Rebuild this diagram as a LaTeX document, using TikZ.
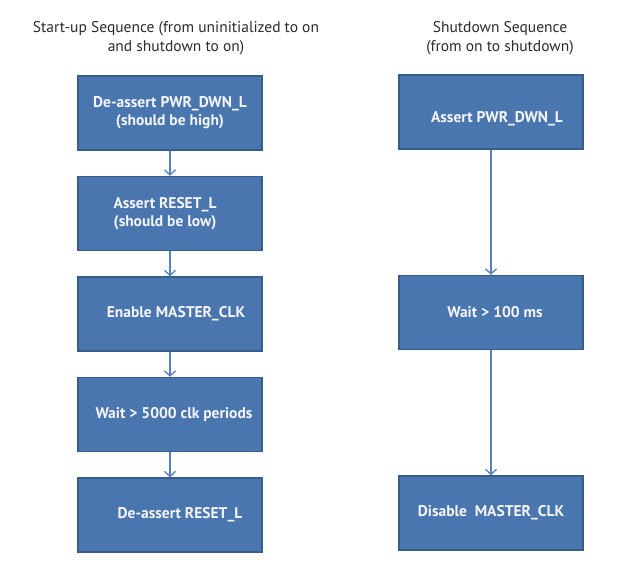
\documentclass[tikz,border=0pt]{standalone}
\usepackage{fontspec}
\setmainfont{PT Sans}
\usetikzlibrary{positioning, arrows.meta}
\definecolor{boxfill}{HTML}{4A76B0}
\definecolor{boxline}{HTML}{385D8A}
\definecolor{arrowblue}{HTML}{5582BE}
\definecolor{titlegray}{HTML}{2B2B2B}
\tikzset{
    stepbox/.style={
        draw=boxline, fill=boxfill, line width=1.5pt,
        minimum width=184pt, minimum height=74pt,
        text=white!92!gray, align=center,
        font=\fontsize{15.5}{18}\selectfont\bfseries
    },
    seqtitle/.style={
        align=center, text=titlegray,
        font=\fontsize{15.5}{19}\selectfont
    },
    flowarrow/.style={
        draw=arrowblue, line width=1.3pt,
        -{Straight Barb[length=5pt, width=11pt, line width=1.3pt]}
    },
    node distance=25pt
}
\begin{document}
\begin{tikzpicture}
    \useasboundingbox (0,0) rectangle (640pt,-574pt);
    % titles
    \node[seqtitle] (starttitle) at (176pt,-38pt) {Start-up Sequence (from uninitialized to on\\and shutdown to on)};
    \node[seqtitle] (shuttitle) at (500pt,-38pt) {Shutdown Sequence\\(from on to shutdown)};
    % start-up column
    \node[stepbox] (deassertpwr) at (170pt,-113pt) {De-assert PWR\_DWN\_L\\(should be high)};
    \node[stepbox, below=of deassertpwr] (assertreset) {\hspace*{-10pt}Assert RESET\_L\\\hspace*{-10pt}(should be low)};
    \node[stepbox, below=of assertreset] (enableclk) {\hspace*{12pt}Enable MASTER\_CLK};
    \node[stepbox, below=of enableclk] (waitclk) {\hspace*{8pt}Wait > 5000 clk periods};
    \node[stepbox, below=of waitclk] (deassertreset) {\hspace*{20pt}De-assert RESET\_L};
    % shutdown column
    \node[stepbox] (assertpwr) at (491pt,-112pt) {\hspace*{12pt}\raisebox{-10pt}[0pt][0pt]{Assert PWR\_DWN\_L}};
    \node[stepbox, below=125pt of assertpwr] (waitms) {\hspace*{8pt}Wait > 100 ms};
    \node[stepbox, below=125pt of waitms] (disableclk) {Disable~ MASTER\_CLK};
    % connectors
    \draw[flowarrow] (deassertpwr) -- (assertreset);
    \draw[flowarrow] (assertreset) -- (enableclk);
    \draw[flowarrow] (enableclk) -- (waitclk);
    \draw[flowarrow] (waitclk) -- (deassertreset);
    \draw[flowarrow] (assertpwr) -- (waitms);
    \draw[flowarrow] (waitms) -- (disableclk);
\end{tikzpicture}
\end{document}
